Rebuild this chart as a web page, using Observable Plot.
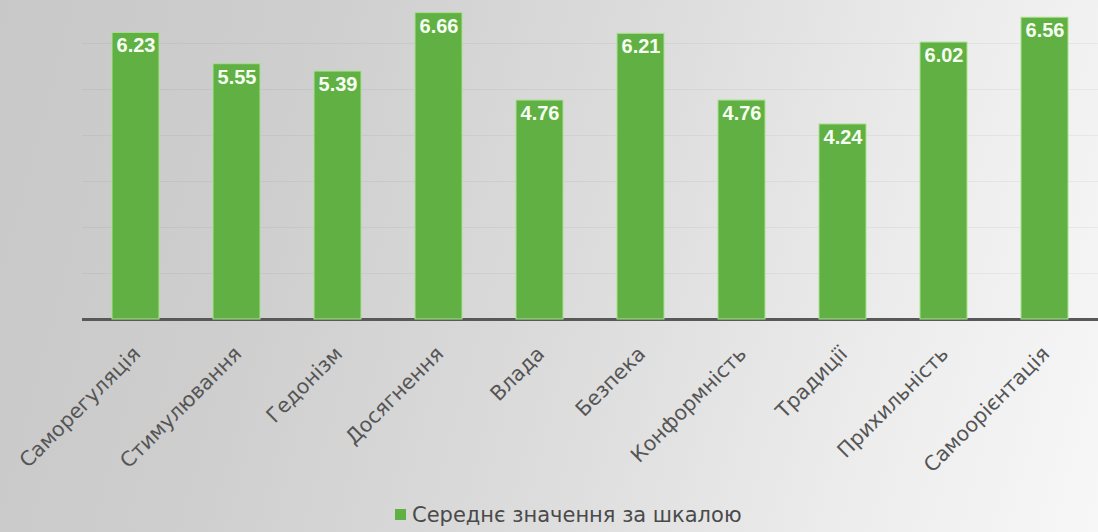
<!DOCTYPE html>
<html>
<head>
<meta charset="utf-8">
<script src="https://cdn.jsdelivr.net/npm/d3@7"></script>
<script src="https://cdn.jsdelivr.net/npm/@observablehq/plot@0.6"></script>
<style>
  html, body { margin: 0; padding: 0; }
  #wrap {
    position: relative; width: 1098px; height: 532px; overflow: hidden;
    background: linear-gradient(105deg, #c8c8c8 0%, #cecece 25%, #dddddd 55%, #ededed 80%, #f7f7f7 100%);
  }
  #chart { position: absolute; left: 0; top: 0; }
  #legend-swatch { position: absolute; left: 395px; top: 509px; width: 11px; height: 11px; }
  #legend-text { position: absolute; left: 412px; top: 503px; font-family: "DejaVu Sans", sans-serif; font-size: 21px; color: #4a4a4a; white-space: nowrap; }
</style>
</head>
<body>
<div id="wrap">
  <div id="chart"></div>
  <div id="legend-swatch"></div>
  <div id="legend-text"></div>
</div>
<script>
const categories = ["Саморегуляція", "Стимулювання", "Гедонізм", "Досягнення", "Влада", "Безпека", "Конформність", "Традиції", "Прихильність", "Самоорієнтація"];
const values = [6.23, 5.55, 5.39, 6.66, 4.76, 6.21, 4.76, 4.24, 6.02, 6.56];
const gridTicks = [1, 2, 3, 4, 5, 6];
const seriesName = "Середнє значення за шкалою";
const barColor = "#60b044";

const data = categories.map((c, i) => ({category: c, value: values[i]}));

const H = 498;
const baseY = 319;
const plot = Plot.plot({
  width: 1098,
  height: H,
  marginLeft: 82,
  marginRight: 0,
  marginTop: 0,
  marginBottom: H - baseY,
  style: {background: "transparent", overflow: "visible"},
  x: {domain: categories, paddingInner: 0.53, paddingOuter: 0.265, axis: null},
  y: {domain: [0, baseY / 46], axis: null},
  marks: [
    Plot.ruleY(gridTicks, {stroke: "#000", strokeOpacity: 0.045}),
    Plot.ruleY([0], {stroke: "#585858", strokeWidth: 3}),
    Plot.barY(data, {x: "category", y: "value", fill: barColor, stroke: "#a9e28e", strokeWidth: 1}),
    Plot.text(data, {x: "category", y: "value", text: d => d.value.toFixed(2), dy: 13,
      fill: "#f6fff2", fontWeight: "bold", fontSize: 20, fontFamily: "Liberation Sans, Arial, sans-serif"}),
    Plot.text(data, {x: "category", y: () => 0, text: "category", rotate: -45, textAnchor: "end",
      dx: 1, dy: 31, fontSize: 20.5, fill: "#555", fontFamily: "DejaVu Sans, sans-serif"})
  ]
});
document.getElementById("chart").appendChild(plot);
document.getElementById("legend-swatch").style.background = barColor;
document.getElementById("legend-text").textContent = seriesName;
</script>
</body>
</html>
